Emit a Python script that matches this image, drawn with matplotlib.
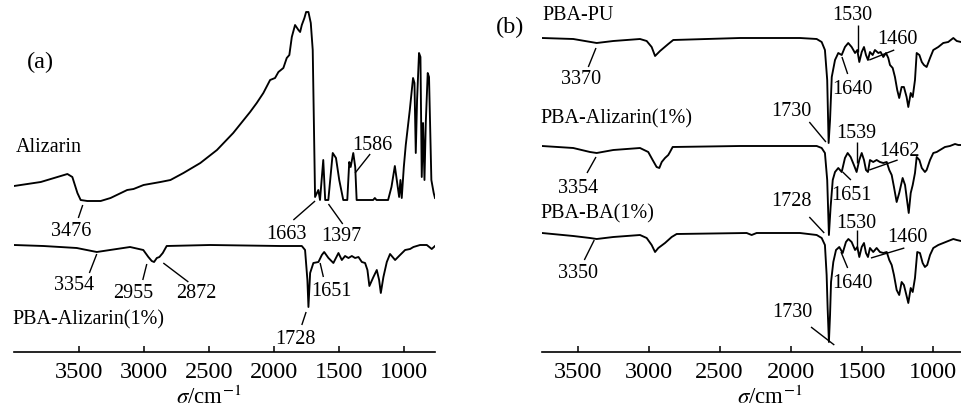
import matplotlib
matplotlib.use("Agg")
import matplotlib.pyplot as plt

plt.rcParams['font.family'] = ['Liberation Serif', 'DejaVu Serif']
plt.rcParams['mathtext.fontset'] = 'stix'

# ---------------- data (wavenumber / cm^-1, offset transmittance a.u.) ----------------
# Panel (a)
ALIZ_WN = [4000, 3794, 3589, 3551, 3512, 3487, 3436, 3333, 3257, 3129, 3080, 3003, 2873, 2796,
           2696, 2566, 2438, 2313, 2183, 2132, 2081, 2029, 1991, 1965, 1927, 1901, 1881, 1862,
           1837, 1811, 1798, 1785, 1765, 1752, 1734, 1716, 1701, 1683, 1658, 1645, 1620, 1605,
           1581, 1547, 1522, 1497, 1466, 1435, 1420, 1409, 1389, 1374, 1363, 1236, 1223, 1210,
           1121, 1095, 1069, 1052, 1036, 1026, 1016, 1000, 985, 954, 929, 918, 908, 898, 883,
           872, 862, 852, 841, 831, 816, 806, 788, 770, 760]
ALIZ_T = [166, 170, 178, 175, 159, 152, 151, 151, 154, 162, 163, 167, 170, 172,
          179, 189, 202, 219, 240, 249, 259, 272, 274, 280, 284, 294, 297, 315,
          327, 322, 320, 327, 334, 340, 340, 329, 302, 155, 162, 152, 192, 152,
          152, 199, 194, 172, 152, 152, 190, 185, 199, 185, 152, 152, 154, 152,
          152, 165, 186, 170, 155, 172, 154, 185, 207, 242, 274, 269, 199, 252, 299,
          295, 175, 229, 172, 229, 279, 275, 172, 159, 154]

PBAAL_A_WN = [4000, 3774, 3517, 3363, 3261, 3107, 3005, 2966, 2940, 2922, 2901, 2881, 2855, 2825,
              2491, 1952, 1785, 1760, 1742, 1734, 1721, 1696, 1657, 1631, 1613, 1580, 1542, 1503,
              1477, 1452, 1426, 1400, 1375, 1349, 1323, 1298, 1280, 1265, 1234, 1208, 1190, 1177,
              1157, 1131, 1106, 1067, 1029, 990, 952, 926, 875, 823, 785, 760]
PBAAL_A_T = [107, 106, 104, 100, 102, 105, 102, 95, 91, 90, 94, 95, 99, 106,
             107, 106, 106, 102, 72, 45, 79, 89, 90, 97, 100, 94, 89, 99,
             92, 96, 94, 96, 94, 95, 90, 89, 82, 66, 75, 82, 72, 59,
             75, 90, 98, 92, 97, 102, 103, 105, 107, 107, 103, 106]

# Panel (b)
PU_WN = [3750, 3530, 3365, 3248, 3060, 3013, 2978, 2954, 2919, 2861, 2826, 2356, 1934, 1816, 1781,
         1758, 1742, 1732, 1722, 1710, 1687, 1664, 1640, 1617, 1594, 1570, 1546, 1530, 1516, 1499,
         1483, 1469, 1455, 1441, 1422, 1406, 1382, 1366, 1347, 1328, 1312, 1300, 1281, 1265, 1249,
         1235, 1218, 1202, 1183, 1171, 1154, 1140, 1124, 1112, 1093, 1076, 1061, 1042, 1018, 995,
         960, 925, 890, 854, 830, 800]
PU_T = [314, 313, 309, 311, 313, 311, 305, 296, 301, 308, 312, 314, 314, 313, 310,
        302, 272, 209, 232, 275, 292, 299, 297, 305, 309, 305, 299, 302, 290, 300,
        305, 297, 292, 300, 297, 302, 299, 300, 295, 299, 294, 287, 284, 275, 262,
        254, 265, 265, 255, 245, 259, 255, 272, 299, 297, 290, 287, 285, 294, 302,
        305, 309, 310, 314, 311, 310]

PBAAL_B_WN = [3750, 3530, 3412, 3365, 3248, 3060, 3002, 2971, 2943, 2924, 2907, 2884, 2861, 2849,
              2830, 2356, 1934, 1816, 1781, 1758, 1742, 1730, 1718, 1703, 1687, 1664, 1640, 1617,
              1598, 1577, 1554, 1535, 1516, 1499, 1483, 1469, 1455, 1441, 1418, 1394, 1371, 1347,
              1323, 1305, 1288, 1272, 1253, 1235, 1211, 1194, 1183, 1168, 1154, 1140, 1124, 1112,
              1093, 1076, 1054, 1042, 1018, 995, 971, 948, 913, 878, 842, 819, 800]
PBAAL_B_T = [206, 204, 200, 199, 202, 204, 200, 192, 185, 184, 190, 194, 197, 200,
             205, 206, 206, 206, 204, 199, 172, 117, 145, 172, 180, 184, 180, 194,
             199, 195, 187, 180, 192, 199, 192, 182, 180, 192, 190, 192, 190, 189,
             190, 182, 177, 165, 150, 159, 174, 167, 155, 139, 159, 167, 179, 195,
             192, 184, 180, 182, 192, 199, 200, 202, 205, 206, 208, 207, 207]

BA_WN = [3750, 3530, 3412, 3365, 3248, 3060, 3013, 2978, 2954, 2931, 2884, 2837, 2802, 2309, 2274,
         2239, 1934, 1816, 1781, 1758, 1746, 1739, 1730, 1722, 1715, 1699, 1680, 1657, 1633, 1610,
         1593, 1570, 1546, 1530, 1516, 1499, 1483, 1469, 1455, 1441, 1418, 1394, 1371, 1347, 1323,
         1305, 1288, 1272, 1253, 1235, 1218, 1202, 1188, 1171, 1154, 1140, 1124, 1108, 1089, 1070,
         1054, 1038, 1018, 995, 960, 925, 890, 854, 830, 800]
BA_T = [119, 116, 114, 113, 115, 117, 114, 107, 100, 104, 109, 115, 118, 119, 117,
        119, 119, 117, 114, 107, 77, 44, 10, 37, 70, 90, 102, 105, 99, 110,
        113, 110, 102, 105, 95, 105, 109, 99, 95, 104, 100, 104, 100, 99, 100,
        92, 87, 77, 62, 57, 70, 67, 59, 49, 64, 60, 74, 100, 99, 89,
        85, 87, 97, 104, 107, 109, 111, 113, 112, 111]

TICKS = [3500, 3000, 2500, 2000, 1500, 1000]
XLABEL = r'$\sigma$/cm$^{-1}$'

# ---------------- figure ----------------
fig = plt.figure(figsize=(9.62, 4.15), dpi=100)
H = 415.0
axa = fig.add_axes([14 / 962, 63 / H, 421 / 962, 352 / H])
axb = fig.add_axes([542 / 962, 63 / H, 419 / 962, 352 / H])

LW = 1.35
TXT = 14.5


def style(ax, xlim, xlab_x):
    ax.set_xlim(*xlim)
    ax.set_ylim(0, 352)
    for s in ['left', 'right', 'top']:
        ax.spines[s].set_visible(False)
    ax.spines['bottom'].set_linewidth(1.2)
    ax.set_yticks([])
    ax.set_xticks(TICKS)
    ax.set_xticklabels([str(t) for t in TICKS])
    ax.tick_params(axis='x', direction='in', length=4, width=1.1, pad=7, labelsize=17.5)
    ax.text(xlab_x, -0.148, XLABEL, transform=ax.transAxes, ha='center', va='baseline',
            fontsize=16.5)
    ax.patch.set_alpha(0)


def lead(ax, p0, p1):
    ax.plot([p0[0], p1[0]], [p0[1], p1[1]], color='black', lw=1.0, solid_capstyle='butt',
            clip_on=False)


def lab(ax, x, y, s, **kw):
    kw.setdefault('ha', 'center')
    kw.setdefault('va', 'center')
    ax.text(x, y, s, fontsize=kw.pop('fontsize', TXT), **kw)


# Panel (a)
axa.plot(ALIZ_WN, ALIZ_T, color='black', lw=LW)
axa.plot(PBAAL_A_WN, PBAAL_A_T, color='black', lw=LW)
style(axa, (4000, 760), 0.462)

lab(axa, 3800, 290, '(a)', fontsize=17.5)
lab(axa, 3985, 205, 'Alizarin', ha='left')
lab(axa, 4015, 32, 'PBA-Alizarin(1%)', ha='left')

for s, tx, ty, p0, p1 in [
    ('3476', 3561, 121, (3505, 134), (3471, 147)),
    ('1663', 1906, 118, (1850, 132), (1683, 151)),
    ('1397', 1483, 116, (1470, 128), (1580, 148)),
    ('1586', 1246, 207, (1259, 198), (1375, 179)),
    ('3354', 3538, 66, (3420, 79), (3363, 98)),
    ('2955', 3082, 58, (3009, 72), (2978, 88)),
    ('2872', 2599, 58, (2658, 70), (2851, 89)),
    ('1651', 1560, 60, (1619, 75), (1644, 89)),
    ('1728', 1837, 13, (1785, 27), (1752, 40)),
]:
    lab(axa, tx, ty, s)
    lead(axa, p0, p1)

# Panel (b)
axb.plot(PU_WN, PU_T, color='black', lw=LW)
axb.plot(PBAAL_B_WN, PBAAL_B_T, color='black', lw=LW)
axb.plot(BA_WN, BA_T, color='black', lw=LW)
style(axb, (3750, 800), 0.544)

lab(axb, 3973, 325, '(b)', fontsize=17.5)
lab(axb, 3750, 337, 'PBA-PU', ha='left')
lab(axb, 3764, 233, 'PBA-Alizarin(1%)', ha='left')
lab(axb, 3764, 138, 'PBA-BA(1%)', ha='left')

for s, tx, ty, p0, p1 in [
    ('3370', 3475, 273, (3424, 285), (3370, 304)),
    ('1530', 1563, 336, (1528, 327), (1528, 300)),
    ('1460', 1246, 312, (1270, 302), (1446, 292)),
    ('1640', 1563, 263, (1598, 278), (1638, 295)),
    ('1730', 1997, 241, (1868, 230), (1751, 210)),
    ('3354', 3499, 164, (3433, 179), (3370, 195)),
    ('1539', 1539, 219, (1532, 210), (1532, 189)),
    ('1462', 1235, 201, (1246, 192), (1446, 182)),
    ('1651', 1570, 157, (1575, 172), (1633, 180)),
    ('1728', 1997, 151, (1868, 135), (1763, 119)),
    ('3350', 3499, 79, (3452, 92), (3382, 112)),
    ('1530', 1539, 129, (1532, 122), (1532, 102)),
    ('1460', 1175, 115, (1199, 104), (1434, 94)),
    ('1640', 1563, 69, (1598, 84), (1645, 100)),
    ('1730', 1985, 40, (1856, 25), (1692, 7)),
]:
    lab(axb, tx, ty, s)
    lead(axb, p0, p1)

fig.savefig('out.png', dpi=100)
